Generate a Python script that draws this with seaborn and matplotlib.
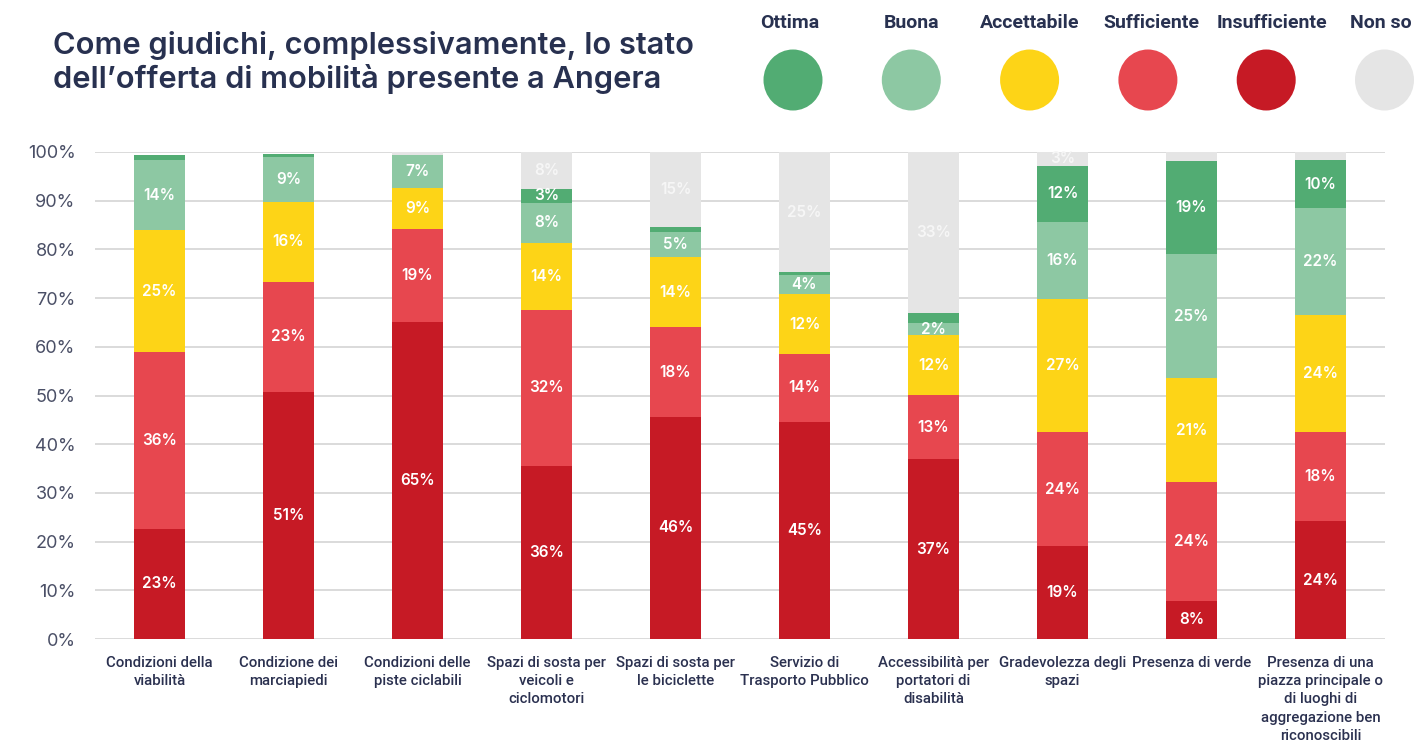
import numpy as np
import pandas as pd
import matplotlib
matplotlib.use("Agg")
import matplotlib.pyplot as plt
from matplotlib.patches import Ellipse
import seaborn as sns

categories = [
    "Condizioni della\nviabilità",
    "Condizione dei\nmarciapiedi",
    "Condizioni delle\npiste ciclabili",
    "Spazi di sosta per\nveicoli e\nciclomotori",
    "Spazi di sosta per\nle biciclette",
    "Servizio di\nTrasporto Pubblico",
    "Accessibilità per\nportatori di\ndisabilità",
    "Gradevolezza degli\nspazi",
    "Presenza di verde",
    "Presenza di una\npiazza principale o\ndi luoghi di\naggregazione ben\nriconoscibili",
]

# Share of answers (%) per rating, stacked bottom to top
insufficiente = [22.6, 50.8, 65.0, 35.6, 45.6, 44.6, 36.9, 19.0, 7.9, 24.2]
sufficiente = [36.4, 22.6, 19.1, 32.0, 18.4, 13.9, 13.2, 23.6, 24.3, 18.4]
accettabile = [24.9, 16.3, 8.6, 13.8, 14.4, 12.3, 12.3, 27.2, 21.4, 23.9]
buona = [14.4, 9.3, 6.7, 8.2, 5.2, 3.9, 2.4, 15.8, 25.4, 22.0]
ottima = [1.1, 0.6, 0.0, 2.8, 1.1, 0.6, 2.2, 11.6, 19.1, 9.8]
non_so = [0.0, 0.0, 0.6, 7.6, 15.3, 24.7, 33.0, 2.8, 1.9, 1.7]

series_names = ["Insufficiente", "Sufficiente", "Accettabile", "Buona", "Ottima", "Non so"]
series_values = [insufficiente, sufficiente, accettabile, buona, ottima, non_so]
series_colors = ["#C61A25", "#E7474F", "#FDD417", "#8DC8A3", "#52AC73", "#E5E5E5"]
label_colors = ["white", "white", "white", "white", "white", "#F6F6F6"]

legend_order = ["Ottima", "Buona", "Accettabile", "Sufficiente", "Insufficiente", "Non so"]

title = "Come giudichi, complessivamente, lo stato\ndell\u2019offerta di mobilità presente a Angera"

sns.set_theme(style="white")
plt.rcParams["font.family"] = ["Inter", "DejaVu Sans"]

W, H = 1424, 743
fig = plt.figure(figsize=(W / 100, H / 100), dpi=100)
ax = fig.add_axes([95 / W, 1 - 639 / H, (1385 - 95) / W, (639 - 152) / H])

df = pd.DataFrame({name: vals for name, vals in zip(series_names, series_values)})
df["categoria"] = categories
cum = df[series_names].cumsum(axis=1)

# Draw cumulative totals from the top segment down so each layer covers the one behind
for name, color in reversed(list(zip(series_names, series_colors))):
    sns.barplot(x=df["categoria"], y=cum[name], color=color, saturation=1,
                width=0.40, errorbar=None, ax=ax, zorder=3, linewidth=0)

# Value labels centred in each segment
for j, name in enumerate(series_names):
    vals = df[name].values
    tops = cum[name].values
    for i, v in enumerate(vals):
        if v >= 2.3:
            ax.text(i, tops[i] - v / 2, f"{int(round(v))}%", ha="center", va="center",
                    color=label_colors[j], fontsize=11, fontweight="semibold", zorder=5)

ax.set_xlim(-0.5, len(categories) - 0.5)
ax.set_ylim(0, 100)
ax.set_yticks(np.arange(0, 101, 10))
ax.set_yticklabels([f"{t}%" for t in range(0, 101, 10)], fontsize=13, color="#4A4F66")
ax.yaxis.grid(True, color="#DADADA", linewidth=1.4, zorder=0)
ax.xaxis.grid(False)
ax.set_xlabel("")
ax.set_ylabel("")
for s in ax.spines.values():
    s.set_visible(False)
ax.tick_params(axis="y", length=0, pad=14)
ax.tick_params(axis="x", length=0, pad=12)
ax.set_xticks(range(len(categories)))
ax.set_xticklabels(categories, fontsize=10.8, color="#2B3150", fontweight="medium",
                   linespacing=1.4, va="top", family=["Roboto", "DejaVu Sans"])

fig.text(53 / W, 1 - 31 / H, title, ha="left", va="top", fontsize=22.2,
         fontweight="semibold", color="#283150", linespacing=1.15)

# Legend: labels above coloured discs
color_of = dict(zip(series_names, series_colors))
label_x = [790, 911, 1030, 1151, 1272, 1381]
for k, name in enumerate(legend_order):
    cx = (793 + 118.3 * k) / W
    fig.text(label_x[k] / W, 1 - 23 / H, name, ha="center", va="center", fontsize=14,
             fontweight="bold", color="#283150", family=["Roboto", "DejaVu Sans"])
    fig.add_artist(Ellipse((cx, 1 - 80 / H), 59 / W, 61 / H, transform=fig.transFigure,
                           facecolor=color_of[name], edgecolor="none"))

fig.savefig("out.png", dpi=100)
